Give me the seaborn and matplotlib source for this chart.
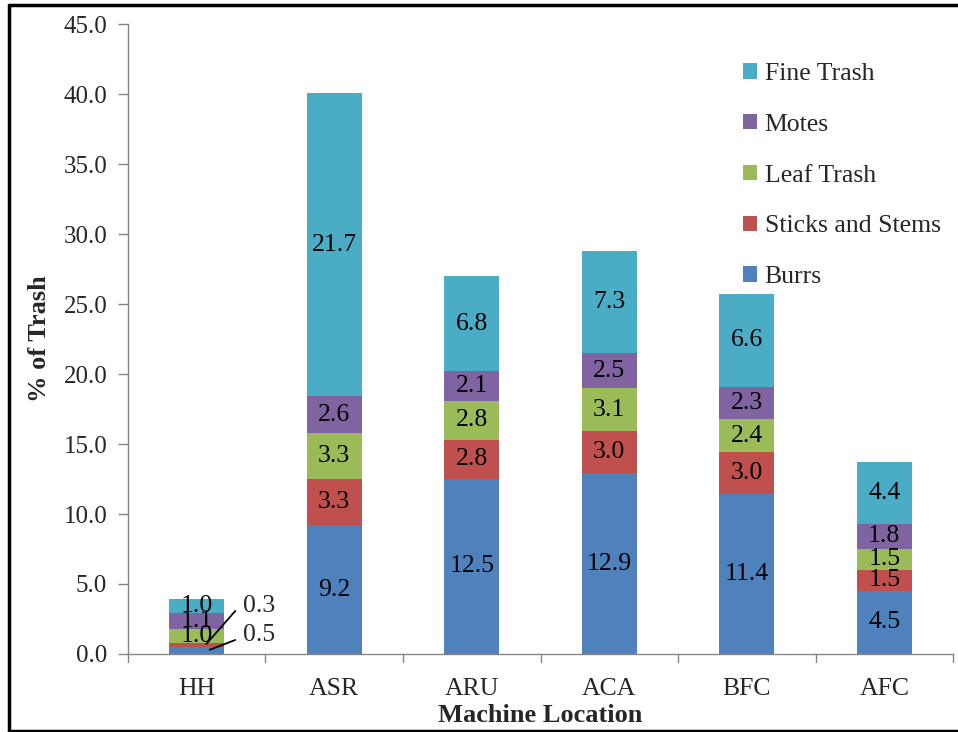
import numpy as np
import pandas as pd
import matplotlib
matplotlib.use("Agg")
import matplotlib.pyplot as plt
import seaborn as sns
from matplotlib.patches import Patch
from matplotlib.lines import Line2D

locations = ["HH", "ASR", "ARU", "ACA", "BFC", "AFC"]
burrs = [0.5, 9.2, 12.5, 12.9, 11.4, 4.5]
sticks = [0.3, 3.3, 2.8, 3.0, 3.0, 1.5]
leaf = [1.0, 3.3, 2.8, 3.1, 2.4, 1.5]
motes = [1.1, 2.6, 2.1, 2.5, 2.3, 1.8]
fine = [1.0, 21.7, 6.8, 7.3, 6.6, 4.4]

series_names = ["Burrs", "Sticks and Stems", "Leaf Trash", "Motes", "Fine Trash"]
series_vals = [burrs, sticks, leaf, motes, fine]
colors = ["#4F81BD", "#C0504D", "#9BBB59", "#8064A2", "#4BACC6"]

sns.set_theme(style="white")
plt.rcParams["font.family"] = ["Liberation Serif", "DejaVu Serif"]

fig = plt.figure(figsize=(9.58, 7.32), dpi=100)
ax = fig.add_axes([0.1336, 0.1066, 0.8612, 0.8604])

vals = np.array(series_vals)
cum = np.cumsum(vals, axis=0)

for i in range(len(series_names) - 1, -1, -1):
    df = pd.DataFrame({"loc": locations, "h": cum[i]})
    sns.barplot(data=df, x="loc", y="h", color=colors[i], width=0.4,
                saturation=1, ax=ax, order=locations, linewidth=0)

fs = 18.5
for j, loc in enumerate(locations):
    for i in range(len(series_names)):
        v = vals[i, j]
        bottom = cum[i, j] - v
        if j == 0 and i in (0, 1):
            continue
        ax.text(j, bottom + v / 2, f"{v:.1f}", ha="center", va="center",
                fontsize=fs, color="black")

# callouts for HH small values
ax.plot([0.28, 0.07], [3.07, 0.72], color="black", lw=1.3)
ax.text(0.34, 3.4, f"{vals[1, 0]:.1f}", ha="left", va="center", fontsize=fs)
ax.plot([0.28, 0.095], [1.0, 0.3], color="black", lw=1.3)
ax.text(0.34, 1.35, f"{vals[0, 0]:.1f}", ha="left", va="center", fontsize=fs)

ax.set_xlim(-0.5, len(locations) - 0.5)
ax.set_ylim(0, 45)
ax.set_yticks(np.arange(0, 45.1, 5))
ax.set_yticklabels([f"{t:.1f}" for t in np.arange(0, 45.1, 5)], fontsize=18)
ax.set_xticks(range(len(locations)))
ax.set_xticklabels(locations, fontsize=18.5)
ax.tick_params(axis="x", length=0, pad=17)
ax.tick_params(axis="y", length=7, width=1, color="#868686", left=True, pad=8)
for b in np.arange(-0.5, len(locations), 1.0):
    ax.plot([b, b], [0, -0.55], color="#868686", lw=1, clip_on=False)

for s in ["top", "right"]:
    ax.spines[s].set_visible(False)
for s in ["left", "bottom"]:
    ax.spines[s].set_color("#868686")
    ax.spines[s].set_linewidth(1)

ax.set_xlabel("Machine Location", fontsize=19, fontweight="bold", labelpad=3)
ax.set_ylabel("% of Trash", fontsize=19, fontweight="bold", labelpad=9)

handles = [Patch(facecolor=colors[i], edgecolor="none") for i in range(len(series_names) - 1, -1, -1)]
labels = [series_names[i] for i in range(len(series_names) - 1, -1, -1)]
leg = ax.legend(handles, labels, loc="upper left", bbox_to_anchor=(0.717, 0.975),
                frameon=False, fontsize=18.5, labelspacing=1.12, handlelength=0.55,
                handleheight=0.55, handletextpad=0.3)

fig.add_artist(Line2D([0.0095, 1.0], [0.993, 0.993], transform=fig.transFigure, color="black", lw=2.5))
fig.add_artist(Line2D([0.0095, 0.0095], [0.001, 0.993], transform=fig.transFigure, color="black", lw=2.5))
fig.add_artist(Line2D([0.0095, 1.0], [0.0015, 0.0015], transform=fig.transFigure, color="black", lw=2.5))

fig.savefig("out.png", dpi=100)
